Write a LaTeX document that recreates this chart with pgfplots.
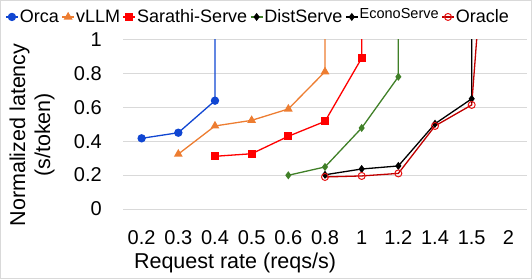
\documentclass[border=0pt]{standalone}
\usepackage{fontspec}
\setmainfont{Liberation Sans}
\usepackage{pgfplots}
\pgfplotsset{compat=1.18}
\definecolor{orcablue}{RGB}{16,70,210}
\definecolor{vllmorange}{RGB}{237,125,49}
\definecolor{sarred}{RGB}{255,0,0}
\definecolor{distgreen}{RGB}{64,128,40}
\definecolor{oracline}{RGB}{192,0,0}
\definecolor{oracmark}{RGB}{230,20,20}
\definecolor{gridgray}{RGB}{217,217,217}
\begin{document}
\begin{tikzpicture}
\useasboundingbox (-123.3bp,-70bp) rectangle (408.7bp,209bp);
\draw[gridgray, line width=1bp] (-122.8bp,-69.5bp) rectangle (408.2bp,208.5bp);
\begin{axis}[
  at={(0,0)}, anchor=south west,
  scale only axis, width=403.4bp, height=169.5bp,
  xmin=-0.5, xmax=10.5, ymin=0, ymax=1,
  xtick={0,...,10},
  xticklabels={0.2,0.3,0.4,0.5,0.6,0.8,1,1.2,1.4,1.5,2},
  ytick={0,0.2,0.4,0.6,0.8,1},
  ymajorgrids, grid style={gridgray, line width=1bp},
  axis line style={draw=none}, tick style={draw=none},
  tick label style={font=\fontsize{20bp}{24bp}\selectfont},
  /pgf/number format/assume math mode=true,
  yticklabel style={xshift=-18bp},
  xticklabel style={yshift=-18bp},
  xlabel={Request rate (reqs/s)},
  ylabel={Normalized latency\\(s/token)},
  label style={font=\fontsize{21.5bp}{25bp}\selectfont},
  xlabel style={at={(axis description cs:0.277,-0.319)}, anchor=center},
  ylabel style={at={(axis description cs:-0.2263,0.437)}, anchor=center, align=center},
  legend columns=-1,
  legend image code/.code={\draw[mark repeat=2,mark phase=2,#1] plot coordinates {(0bp,0bp) (6bp,0bp) (12bp,0bp)};},
  legend style={at={(axis description cs:-0.293,1.133)}, anchor=west, draw=none, fill=none,
    font=\fontsize{18bp}{21bp}\selectfont, inner sep=0pt, nodes={inner sep=1.2bp},
    /tikz/every even column/.append style={column sep=1.5bp}},
]
\addplot[orcablue, line width=1.3bp, mark=*, mark size=3.5bp] coordinates {(0,0.417)(1,0.45)(2,0.639)(2,5)};
\addlegendentry{Orca}
\addplot[vllmorange, line width=1.3bp, mark=triangle*, mark size=3.8bp] coordinates {(1,0.324)(2,0.49)(3,0.523)(4,0.59)(5,0.81)(5,5)};
\addlegendentry{vLLM}
\addplot[sarred, line width=1.3bp, mark=square*, mark size=3.3bp] coordinates {(2,0.311)(3,0.326)(4,0.429)(5,0.517)(6,0.89)(6,5)};
\addlegendentry{Sarathi-Serve}
\addplot[distgreen, line width=1.3bp, mark=diamond*, mark size=3bp, forget plot] coordinates {(4,0.199)(5,0.248)(6,0.478)(7,0.78)(7,5)};
\addlegendimage{distgreen, line width=1.3bp, mark=diamond*, mark size=3bp, mark options={black}}
\addlegendentry{DistServe}
\addplot[black, line width=1.3bp, mark=diamond*, mark size=3bp] coordinates {(5,0.202)(6,0.236)(7,0.254)(8,0.503)(9,0.65)(9,5)};
\addlegendentry{\raisebox{6bp}{\fontsize{14.5bp}{18bp}\selectfont EconoServe}}
\addplot[oracline, line width=1.3bp, mark=o, mark size=3.5bp, mark options={oracmark, line width=1bp}] coordinates {(5,0.189)(6,0.195)(7,0.21)(8,0.49)(9,0.614)(10,3.45)};
\addlegendentry{Oracle}
\end{axis}
\end{tikzpicture}
\end{document}
